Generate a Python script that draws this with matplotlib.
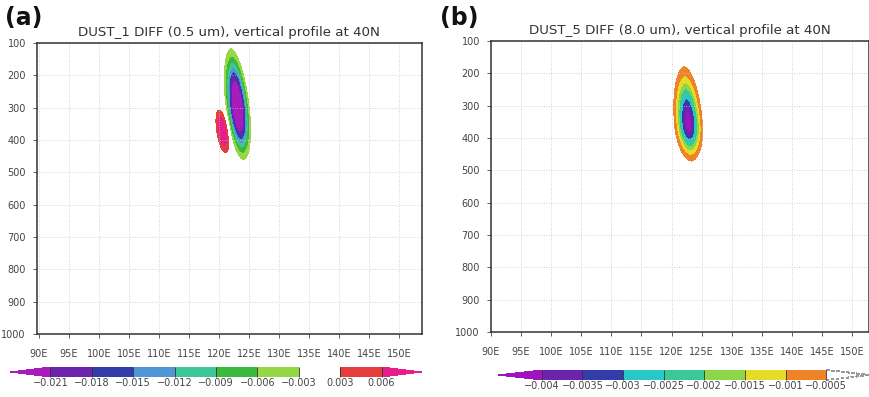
import numpy as np
import matplotlib
matplotlib.use("Agg")
import matplotlib.pyplot as plt
from matplotlib.colors import ListedColormap, BoundaryNorm

# ---------------- data ----------------
lon_ticks = [90, 95, 100, 105, 110, 115, 120, 125, 130, 135, 140, 145, 150]
lon_labels = [f"{v}E" for v in lon_ticks]
p_ticks = [100, 200, 300, 400, 500, 600, 700, 800, 900, 1000]

titles = ["DUST_1 DIFF (0.5 um), vertical profile at 40N",
          "DUST_5 DIFF (8.0 um), vertical profile at 40N"]
panel_tags = ["(a)", "(b)"]

# contour levels / colours
levels_a = [-0.021, -0.018, -0.015, -0.012, -0.009, -0.006, -0.003, 0.003, 0.006]
labels_a = ["\u22120.021", "\u22120.018", "\u22120.015", "\u22120.012", "\u22120.009",
            "\u22120.006", "\u22120.003", "0.003", "0.006"]
colors_a = ["#6e23af", "#323caa", "#5096d7", "#3cc896", "#3cb93c", "#96d746",
            "#ffffff", "#e63c3c"]
under_a, over_a = "#a81cbc", "#e61e8c"

levels_b = [-0.004, -0.0035, -0.003, -0.0025, -0.002, -0.0015, -0.001, -0.0005]
labels_b = ["\u22120.004", "\u22120.0035", "\u22120.003", "\u22120.0025", "\u22120.002",
            "\u22120.0015", "\u22120.001", "\u22120.0005"]
colors_b = ["#6e23af", "#323caa", "#28c8c8", "#3cc896", "#8cd746", "#e6dc28", "#f08228"]
under_b, over_b = "#a014be", "#ffffff"

# plume parameters (one entry per plume)
a_amp = [-0.030, 0.010]
a_lon0 = [123.1, 120.6]
a_p0 = [300.0, 373.0]
a_sx = [1.10, 0.62]
a_sp_up = [97.0, 43.0]
a_sp_dn = [86.0, 43.0]
a_tilt = [0.006, 0.008]
a_m = [2.35, 2.0]

b_amp = [-0.0045]
b_lon0 = [122.8]
b_p0 = [355.0]
b_sx = [1.19]
b_sp_up = [85.0]
b_sp_dn = [57.0]
b_tilt = [0.004]
b_m = [2.0]

# ---------------- field ----------------
lon = np.linspace(88, 156, 681)
pres = np.linspace(100, 1000, 451)
LON, P = np.meshgrid(lon, pres)


def field(amp, lon0, p0, sx, spu, spd, tilt, m):
    f = np.zeros_like(LON)
    for A, l0, pc, s, su, sd, t, mm in zip(amp, lon0, p0, sx, spu, spd, tilt, m):
        lc = l0 + t * (P - pc)
        sp = np.where(P < pc, su, sd)
        r = np.sqrt(((LON - lc) / s) ** 2 + ((P - pc) / sp) ** 2)
        f += A * np.exp(-0.5 * r ** mm)
    return f


Fa = field(a_amp, a_lon0, a_p0, a_sx, a_sp_up, a_sp_dn, a_tilt, a_m)
Fb = field(b_amp, b_lon0, b_p0, b_sx, b_sp_up, b_sp_dn, b_tilt, b_m)

# ---------------- figure ----------------
W, H = 870, 397
fig = plt.figure(figsize=(W / 100, H / 100), dpi=100)
plt.rcParams['font.family'] = ['DejaVu Sans']


def fx(px):
    return px / W


def fy(py):
    return 1 - py / H


specs = [
    dict(rect=[fx(37), fy(334), fx(422 - 37), (334 - 43) / H], xlim=(89.7, 153.8),
         F=Fa, levels=levels_a, labels=labels_a, colors=colors_a, under=under_a,
         over=over_a, crect=[fx(10), fy(377), fx(422 - 10), 10 / H], efrac=0.122,
         tag_x=fx(5)),
    dict(rect=[fx(491), fy(332), fx(869 - 491), (332 - 41) / H], xlim=(90, 152.8),
         F=Fb, levels=levels_b, labels=labels_b, colors=colors_b, under=under_b,
         over=over_b, crect=[fx(498), fy(380), fx(870 - 498), 10 / H], efrac=0.154,
         tag_x=fx(440)),
]

for i, s in enumerate(specs):
    ax = fig.add_axes(s["rect"])
    cmap = ListedColormap(s["colors"])
    cmap.set_under(s["under"])
    cmap.set_over(s["over"])
    norm = BoundaryNorm(s["levels"], cmap.N)
    cs = ax.contourf(LON, P, s["F"], levels=s["levels"], cmap=cmap, norm=norm,
                     extend="both")
    ax.set_xlim(*s["xlim"])
    ax.set_ylim(1000, 100)
    ax.set_xticks(lon_ticks)
    ax.set_xticklabels(lon_labels)
    ax.set_yticks(p_ticks)
    ax.set_yticklabels([str(v) for v in p_ticks])
    ax.tick_params(direction="out", length=3, width=0.6, labelsize=7,
                   colors="#444444", pad=5)
    ax.tick_params(axis="x", pad=8)
    ax.grid(True, linestyle=(0, (1, 2)), color="#c4c4c4", linewidth=0.6)
    for sp in ax.spines.values():
        sp.set_linewidth(1.1)
        sp.set_color("#333333")
    ax.set_title(titles[i], fontsize=9.6, color="#333333", pad=5)

    fig.text(s["tag_x"], fy(18), panel_tags[i], fontsize=17, fontweight="bold",
             va="center", ha="left", color="#111111")

    cax = fig.add_axes(s["crect"])
    cb = fig.colorbar(cs, cax=cax, orientation="horizontal", extend="both",
                      extendfrac=s["efrac"], drawedges=True, ticks=s["levels"])
    cb.outline.set_linewidth(0)
    cb.dividers.set_color("#333333")
    cb.dividers.set_linewidth(0.6)
    cb.set_ticklabels(s["labels"])
    cb.ax.tick_params(length=0, labelsize=7, colors="#444444", pad=1)
    if i == 1:
        up = cb._extend_patches[-1]
        up.set_edgecolor("#999999")
        up.set_linestyle((0, (2, 2)))
        up.set_linewidth(0.8)

fig.savefig("out.png", dpi=100)
